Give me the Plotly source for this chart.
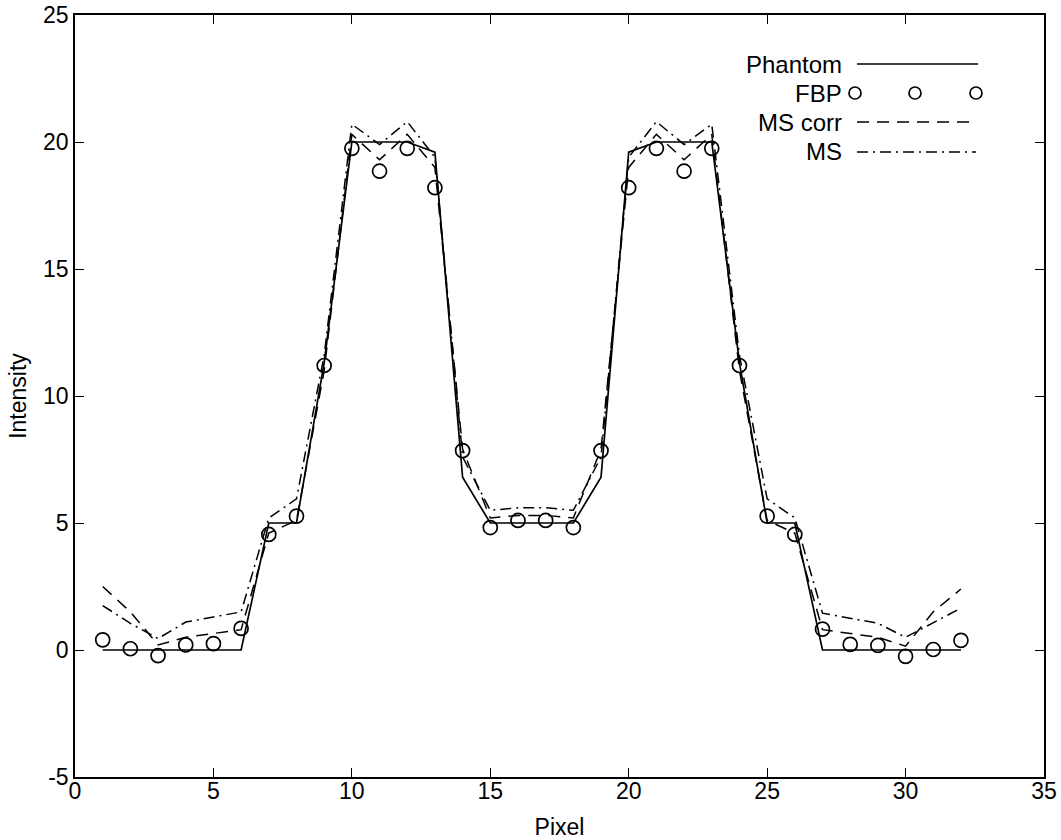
import plotly.graph_objects as go

pixel = list(range(1, 33))
phantom = [0, 0, 0, 0, 0, 0, 5, 5, 11.3, 20, 20, 20, 19.6, 6.8, 5, 5,
           5, 5, 6.8, 19.6, 20, 20, 20, 11.3, 5, 5, 0, 0, 0, 0, 0, 0]
fbp = [0.4, 0.05, -0.22, 0.2, 0.25, 0.85, 4.55, 5.27, 11.2, 19.75, 18.85, 19.75, 18.2, 7.85, 4.82, 5.1,
       5.1, 4.82, 7.85, 18.2, 19.75, 18.85, 19.75, 11.2, 5.27, 4.55, 0.82, 0.22, 0.18, -0.25, 0.02, 0.38]
ms_corr = [2.5, 1.5, 0.2, 0.5, 0.65, 0.8, 4.6, 5.1, 11.0, 20.3, 19.3, 20.3, 19.0, 7.9, 5.2, 5.3,
           5.3, 5.2, 7.9, 19.0, 20.3, 19.3, 20.3, 11.0, 5.1, 4.6, 0.8, 0.65, 0.5, 0.15, 1.5, 2.4]
ms = [1.75, 1.05, 0.45, 1.1, 1.3, 1.5, 5.2, 5.95, 11.6, 20.7, 19.9, 20.8, 19.4, 7.6, 5.5, 5.6,
      5.6, 5.5, 7.6, 19.4, 20.8, 19.9, 20.7, 11.6, 5.95, 5.2, 1.45, 1.25, 1.05, 0.5, 1.06, 1.65]

x_ticks = [0, 5, 10, 15, 20, 25, 30, 35]
y_ticks = [-5, 0, 5, 10, 15, 20, 25]
legend_names = ["Phantom", "FBP", "MS corr", "MS"]

FONT = "Liberation Sans, Arial, Helvetica, sans-serif"
DASH = "12px,8px"
DASHDOT = "11px,5px,2px,5px"

fig = go.Figure()
fig.add_trace(go.Scatter(x=pixel, y=phantom, mode="lines", name=legend_names[0],
                         line=dict(color="black", width=1.7)))
fig.add_trace(go.Scatter(x=pixel, y=fbp, mode="markers", name=legend_names[1],
                         marker=dict(symbol="circle-open", size=14, color="black",
                                     line=dict(color="black", width=1.7))))
fig.add_trace(go.Scatter(x=pixel, y=ms_corr, mode="lines", name=legend_names[2],
                         line=dict(color="black", width=1.5, dash=DASH)))
fig.add_trace(go.Scatter(x=pixel, y=ms, mode="lines", name=legend_names[3],
                         line=dict(color="black", width=1.5, dash=DASHDOT)))

# Plot area in pixels: left 75, right 1044, top 15, bottom 777
L, R, T, B = 75, 1044, 15, 777
W, H = R - L, B - T


def px(xp):
    return (xp - L) / W


def py(yp):
    return (B - yp) / H


shapes = []
annotations = []
leg_rows = [64, 93, 122, 152]
text_right = 844
for name, yr in zip(legend_names, leg_rows):
    annotations.append(dict(text=name, x=px(text_right), y=py(yr), xref="paper", yref="paper",
                            xanchor="right", yanchor="middle", showarrow=False,
                            font=dict(family=FONT, size=24, color="black")))

# legend samples
shapes.append(dict(type="line", xref="paper", yref="paper", x0=px(857), x1=px(978),
                   y0=py(leg_rows[0]), y1=py(leg_rows[0]), line=dict(color="black", width=1.7)))
for cx in [855, 915, 976]:
    r = 6
    shapes.append(dict(type="circle", xref="paper", yref="paper",
                       x0=px(cx - r), x1=px(cx + r), y0=py(leg_rows[1] + r), y1=py(leg_rows[1] - r),
                       line=dict(color="black", width=1.7)))
shapes.append(dict(type="line", xref="paper", yref="paper", x0=px(857), x1=px(976),
                   y0=py(leg_rows[2]), y1=py(leg_rows[2]), line=dict(color="black", width=1.5, dash=DASH)))
shapes.append(dict(type="line", xref="paper", yref="paper", x0=px(857), x1=px(976),
                   y0=py(leg_rows[3]), y1=py(leg_rows[3]), line=dict(color="black", width=1.5, dash=DASHDOT)))

axis_common = dict(showgrid=False, zeroline=False, showline=True, linecolor="black", linewidth=1.6,
                   mirror="ticks", ticks="inside", ticklen=9, tickwidth=1.3, tickcolor="black",
                   automargin=False,
                   tickfont=dict(family=FONT, size=23, color="black"))

fig.update_layout(
    width=1061, height=840,
    margin=dict(l=L, r=1061 - R, t=T, b=840 - B, autoexpand=False),
    paper_bgcolor="white", plot_bgcolor="white",
    showlegend=False,
    shapes=shapes, annotations=annotations,
    font=dict(family=FONT, color="black"),
    xaxis=dict(range=[0, 35], tickvals=x_ticks, ticktext=[str(v) for v in x_ticks],
               ticklabelstandoff=-7,
               title=dict(text="Pixel", font=dict(family=FONT, size=23, color="black"), standoff=17),
               **axis_common),
    yaxis=dict(range=[-5, 25], tickvals=y_ticks, ticktext=[str(v) for v in y_ticks],
               title=dict(text="Intensity", font=dict(family=FONT, size=23, color="black"), standoff=10),
               **axis_common),
)

fig.write_html("out.html")
